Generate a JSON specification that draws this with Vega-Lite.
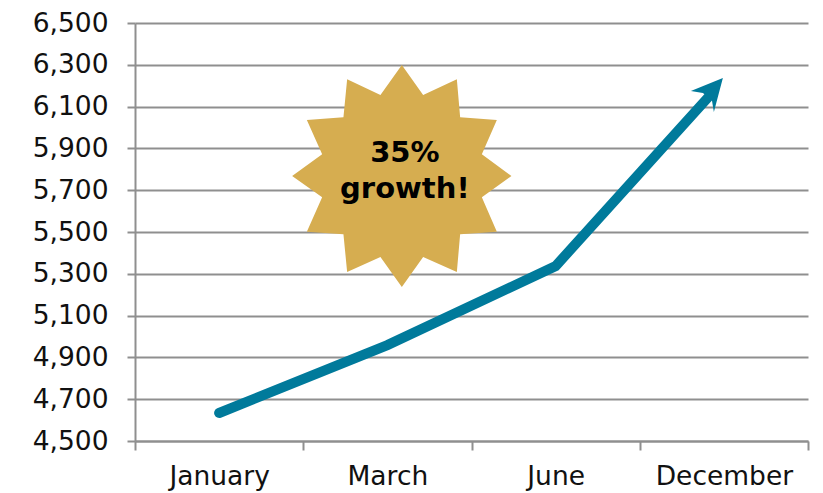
{
  "$schema": "https://vega.github.io/schema/vega-lite/v6.json",
  "width": 673,
  "height": 418,
  "autosize": {"type": "none"},
  "padding": {"left": 135, "top": 23, "right": 15, "bottom": 52},
  "background": "white",
  "config": {"view": {"stroke": null}, "font": "DejaVu Sans"},
  "datasets": {
    "sales": [
      {"month": "January", "pos": 0, "value": 4634},
      {"month": "March", "pos": 1, "value": 4959},
      {"month": "June", "pos": 2, "value": 5337},
      {"month": "December", "pos": 2.93, "value": 6165}
    ],
    "callout": [
      {"label": "35%\ngrowth!", "pos": 1.086, "value": 5768}
    ]
  },
  "layer": [
    {
      "data": {"name": "sales"},
      "transform": [{"filter": "datum.month === 'December'"}],
      "mark": {
        "type": "point",
        "filled": true,
        "opacity": 1,
        "size": 4,
        "color": "#007A9B",
        "strokeWidth": 0,
        "shape": "M-1,-15L-33,-2L-21,0L-12,7L-10,19Z"
      },
      "encoding": {
        "x": {
          "field": "month",
          "type": "nominal",
          "scale": {"domain": ["January", "March", "June", "December"], "paddingInner": 0, "paddingOuter": 0},
          "sort": null,
          "axis": {
            "title": null,
            "labelAngle": 0,
            "labelFontSize": 26.5,
            "labelColor": "#111111",
            "labelPadding": 13,
            "tickBand": "extent",
            "tickColor": "#8F8F8F",
            "tickWidth": 2,
            "tickSize": 9,
            "domainColor": "#8F8F8F",
            "domainWidth": 2,
            "grid": false
          }
        },
        "y": {
          "field": "value",
          "type": "quantitative",
          "scale": {"domain": [4500, 6500], "nice": false, "zero": false},
          "axis": {
            "title": null,
            "values": [4500, 4700, 4900, 5100, 5300, 5500, 5700, 5900, 6100, 6300, 6500],
            "format": ",d",
            "labelFontSize": 26.5,
            "labelColor": "#111111",
            "labelPadding": 19,
            "tickColor": "#8F8F8F",
            "tickWidth": 2,
            "tickSize": 8,
            "domainColor": "#8F8F8F",
            "domainWidth": 2,
            "grid": true,
            "gridColor": "#8F8F8F",
            "gridWidth": 2
          }
        }
      }
    },
    {
      "data": {"name": "sales"},
      "mark": {"type": "line", "color": "#007A9B", "strokeWidth": 10, "strokeCap": "round", "strokeJoin": "miter"},
      "encoding": {
        "x": {
          "field": "pos",
          "type": "quantitative",
          "scale": {"domain": [-0.5, 3.5], "nice": false, "zero": false},
          "axis": null
        },
        "y": {"field": "value", "type": "quantitative"}
      }
    },
    {
      "data": {"name": "callout"},
      "mark": {
        "type": "point",
        "filled": true,
        "opacity": 1,
        "size": 4,
        "color": "#D6AD50",
        "strokeWidth": 0,
        "shape": "M0,-111L21.3,-81L55,-96.7L58.3,-58.7L95,-56L80,-21.7L109.6,0L80,21.3L95,55.7L58.3,58.3L55,96L21.3,81L0,111L-21.4,81L-54.7,96L-58.4,58.3L-95,55.7L-79.7,21.3L-109.7,0L-79.7,-21.7L-95,-56L-58.4,-58.7L-54.7,-96.7L-21.4,-81Z"
      },
      "encoding": {
        "x": {
          "field": "pos",
          "type": "quantitative",
          "scale": {"domain": [-0.5, 3.5], "nice": false, "zero": false},
          "axis": null
        },
        "y": {"field": "value", "type": "quantitative"}
      }
    },
    {
      "data": {"name": "callout"},
      "mark": {
        "type": "text",
        "fontSize": 29,
        "fontWeight": "bold",
        "color": "#000000",
        "align": "center",
        "baseline": "middle",
        "lineBreak": "\n",
        "lineHeight": 36,
        "dx": 3,
        "dy": -23
      },
      "encoding": {
        "x": {
          "field": "pos",
          "type": "quantitative",
          "scale": {"domain": [-0.5, 3.5], "nice": false, "zero": false},
          "axis": null
        },
        "y": {"field": "value", "type": "quantitative"},
        "text": {"field": "label"}
      }
    }
  ],
  "resolve": {"scale": {"x": "independent"}}
}
